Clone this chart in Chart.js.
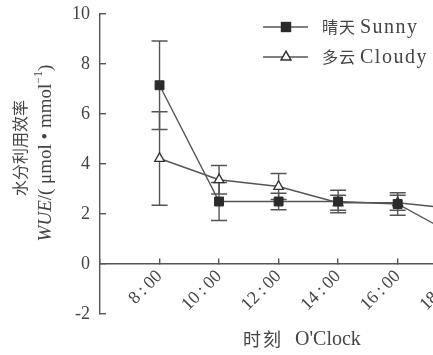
<!DOCTYPE html>
<html>
<head>
<meta charset="utf-8">
<script src="https://cdn.jsdelivr.net/npm/chart.js@4/dist/chart.umd.min.js"></script>
<style>
  html, body { margin: 0; padding: 0; background: #fff; overflow: hidden; }
  #wrap { width: 540px; height: 355px; }
</style>
</head>
<body>
<div id="wrap"><canvas id="myChart" width="540" height="355"></canvas></div>
<script>
// hours of the day, x values
var hours = [8, 10, 12, 14, 16, 18];
// WUE values and error bars
var sunny = [7.15, 2.5, 2.5, 2.5, 2.4, 1.1];
var sunnyErr = [1.77, 0.76, 0.33, 0.45, 0.45, 0.3];
var cloudy = [4.22, 3.37, 3.1, 2.45, 2.45, 2.2];
var cloudyErr = [1.87, 0.57, 0.52, 0.3, 0.3, 0.3];
var yTicks = [-2, 0, 2, 4, 6, 8, 10];
var legendCn = ['晴天', '多云'];
var legendEn = ['Sunny', 'Cloudy'];

var ink = '#444';
var lineCol = '#555';
var serif = "'Liberation Serif', 'Noto Sans CJK SC', serif";
var cjk = "'Noto Sans CJK SC', sans-serif";

function pts(vals) {
  return hours.map(function (h, k) { return { x: h, y: vals[k] }; });
}

// error bars, drawn under the markers
var errorBars = {
  id: 'errorBars',
  beforeDatasetsDraw: function (chart) {
    var ctx = chart.ctx, ys = chart.scales.y;
    var errs = [sunnyErr, cloudyErr];
    ctx.save();
    ctx.strokeStyle = lineCol;
    ctx.lineWidth = 1.4;
    chart.data.datasets.forEach(function (ds, d) {
      var meta = chart.getDatasetMeta(d);
      meta.data.forEach(function (p, k) {
        var v = ds.data[k].y, e = errs[d][k];
        var t = ys.getPixelForValue(v + e), b = ys.getPixelForValue(v - e);
        ctx.beginPath();
        ctx.moveTo(p.x, t); ctx.lineTo(p.x, b);
        ctx.moveTo(p.x - 8, t); ctx.lineTo(p.x + 8, t);
        ctx.moveTo(p.x - 8, b); ctx.lineTo(p.x + 8, b);
        ctx.stroke();
      });
    });
    ctx.restore();
  }
};

// legend, axis titles
var extras = {
  id: 'extras',
  afterDraw: function (chart) {
    var ctx = chart.ctx;
    ctx.save();
    ctx.fillStyle = ink;
    ctx.textBaseline = 'middle';

    // legend
    var rows = [27, 57];
    chart.data.datasets.forEach(function (ds, d) {
      var y = rows[d];
      ctx.strokeStyle = lineCol;
      ctx.lineWidth = 1.4;
      ctx.beginPath(); ctx.moveTo(263, y); ctx.lineTo(308, y); ctx.stroke();
      Chart.helpers.drawPoint(ctx, {
        pointStyle: ds.pointStyle, radius: ds.pointRadius, borderWidth: 1.3
      }, 286, y);
      ctx.fillStyle = ds.pointBackgroundColor;
      ctx.strokeStyle = ds.pointBorderColor;
      ctx.lineWidth = 1.3;
      ctx.fill(); ctx.stroke();
      ctx.fillStyle = ink;
      ctx.textAlign = 'left';
      ctx.font = '16px ' + cjk;
      ctx.letterSpacing = '1px';
      ctx.fillText(legendCn[d], 322, y);
      ctx.font = '20px ' + serif;
      ctx.letterSpacing = '1.5px';
      ctx.fillText(legendEn[d], 360, y + 1);
      ctx.letterSpacing = '0px';
    });

    // x title
    ctx.textAlign = 'left';
    ctx.font = '18px ' + cjk;
    ctx.letterSpacing = '2px';
    ctx.fillText('时刻', 243, 339);
    ctx.letterSpacing = '0px';
    ctx.font = '20px ' + serif;
    ctx.fillText('O\'Clock', 295, 340);

    // y title, two rotated lines
    ctx.save();
    ctx.translate(20, 148);
    ctx.rotate(-Math.PI / 2);
    ctx.textAlign = 'center';
    ctx.font = '16px ' + cjk;
    ctx.fillText('水分利用效率', 0, 0);
    ctx.restore();

    ctx.save();
    ctx.translate(46, 153);
    ctx.rotate(-Math.PI / 2);
    ctx.textAlign = 'left';
    var parts = [
      ['WUE', 'italic 19px ' + serif, 0],
      ['/( μmol • mmol', '19px ' + serif, 0],
      ['−1', '12px ' + serif, -7],
      [')', '19px ' + serif, 0]
    ];
    var total = 0;
    parts.forEach(function (p) { ctx.font = p[1]; total += ctx.measureText(p[0]).width; });
    var x = -total / 2;
    parts.forEach(function (p) {
      ctx.font = p[1];
      ctx.fillText(p[0], x, p[2]);
      x += ctx.measureText(p[0]).width;
    });
    ctx.restore();

    ctx.restore();
  }
};

Chart.defaults.font.family = serif;
Chart.defaults.color = ink;

new Chart(document.getElementById('myChart').getContext('2d'), {
  type: 'line',
  data: {
    datasets: [{
      label: legendCn[0] + ' ' + legendEn[0],
      data: pts(sunny),
      borderColor: lineCol,
      borderWidth: 1.4,
      pointStyle: 'rect',
      pointRadius: 6.3,
      pointBackgroundColor: '#2b2b2b',
      pointBorderColor: '#2b2b2b',
      pointBorderWidth: 1,
      tension: 0,
      clip: false
    }, {
      label: legendCn[1] + ' ' + legendEn[1],
      data: pts(cloudy),
      borderColor: lineCol,
      borderWidth: 1.4,
      pointStyle: 'triangle',
      pointRadius: 5.6,
      pointBackgroundColor: '#fff',
      pointBorderColor: '#333',
      pointBorderWidth: 1.3,
      tension: 0,
      clip: false
    }]
  },
  options: {
    responsive: false,
    animation: false,
    layout: { padding: { left: 0, right: 20, top: 14, bottom: 41 } },
    plugins: { legend: { display: false }, tooltip: { enabled: false } },
    scales: {
      x: {
        type: 'linear',
        position: { y: 0 },
        min: 6,
        max: 20,
        border: { color: lineCol, width: 1.4 },
        grid: { drawOnChartArea: false, tickLength: -6, color: lineCol, lineWidth: 1.4 },
        ticks: {
          stepSize: 2,
          minRotation: 45,
          maxRotation: 45,
          padding: 8,
          font: { size: 18 },
          color: ink,
          callback: function (v) { return (v >= hours[0] && v <= hours[hours.length - 1]) ? v + '\u2009:\u200900' : ''; }
        }
      },
      y: {
        min: yTicks[0],
        max: yTicks[yTicks.length - 1],
        afterFit: function (s) { s.width = 100; s.paddingTop = 0; s.paddingBottom = 0; },
        afterBuildTicks: function (s) { s.ticks = yTicks.map(function (v) { return { value: v }; }); },
        border: { color: lineCol, width: 1.4 },
        grid: { drawOnChartArea: false, tickLength: -6, color: lineCol, lineWidth: 1.4 },
        ticks: { padding: 16, font: { size: 18 }, color: ink }
      }
    }
  },
  plugins: [errorBars, extras]
});
</script>
</body>
</html>
